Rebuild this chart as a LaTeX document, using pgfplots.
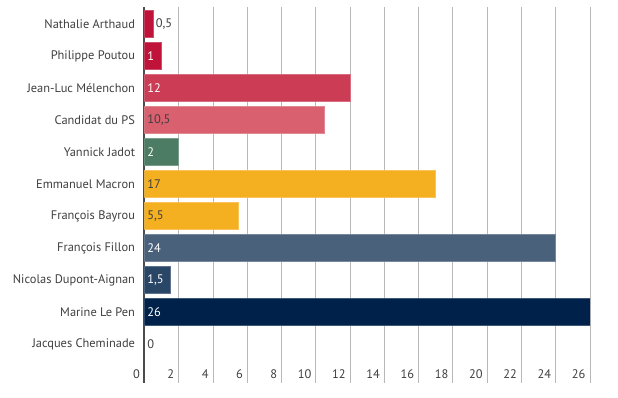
\documentclass[border=0pt]{standalone}
\usepackage{fontspec}
\setmainfont{PT Sans}
\usepackage{pgfplots}
\pgfplotsset{compat=1.18}
\definecolor{cLO}{HTML}{BF133A}
\definecolor{cFI}{HTML}{CC3C55}
\definecolor{cPS}{HTML}{D9606E}
\definecolor{cEE}{HTML}{4C7C64}
\definecolor{cEM}{HTML}{F5B021}
\definecolor{cLR}{HTML}{4A617C}
\definecolor{cDF}{HTML}{2A4666}
\definecolor{cFN}{HTML}{00214A}
\definecolor{txt}{HTML}{3F3F3F}
\begin{document}
\begin{tikzpicture}[font=\fontsize{12.4bp}{14bp}\selectfont]
\begin{axis}[
  at={(0,0)}, anchor=south west,
  scale only axis, width=445.5bp, height=376bp,
  xmin=0, xmax=26, ymin=-0.53, ymax=11.22, y dir=reverse,
  axis line style={draw=none},
  major tick length=0pt,
  xtick={2,4,...,26},
  extra x ticks={0},
  extra x tick style={grid style={draw=black!70, line width=2bp}},
  xmajorgrids, grid style={draw=black!28, line width=0.9bp},
  xticklabel style={anchor=base east, yshift=5bp, xshift=-1bp, text=txt},
  ytick={0,...,10},
  yticklabels={Nathalie Arthaud, Philippe Poutou, Jean-Luc Mélenchon, Candidat du PS, Yannick Jadot, Emmanuel Macron, François Bayrou, François Fillon, Nicolas Dupont-Aignan, Marine Le Pen, Jacques Cheminade},
  yticklabel style={xshift=-6bp, text=txt},
  /pgf/number format/assume math mode=true,
  every axis plot/.append style={xbar, bar width=27bp, bar shift=0pt, line width=1bp},
]
\addplot[fill=cLO, draw=cLO!75!white, bar shift=0pt] coordinates {(0.5,0)};
\addplot[fill=cLO, draw=cLO!75!white, bar shift=0pt] coordinates {(1,1)};
\addplot[fill=cFI, draw=cFI!75!white, bar shift=0pt] coordinates {(12,2)};
\addplot[fill=cPS, draw=cPS!75!white, bar shift=0pt] coordinates {(10.5,3)};
\addplot[fill=cEE, draw=cEE!75!white, bar shift=0pt] coordinates {(2,4)};
\addplot[fill=cEM, draw=cEM!75!white, bar shift=0pt] coordinates {(17,5)};
\addplot[fill=cEM, draw=cEM!75!white, bar shift=0pt] coordinates {(5.5,6)};
\addplot[fill=cLR, draw=cLR!75!white, bar shift=0pt] coordinates {(24,7)};
\addplot[fill=cDF, draw=cDF!75!white, bar shift=0pt] coordinates {(1.5,8)};
\addplot[fill=cFN, draw=cFN!75!white, bar shift=0pt] coordinates {(26,9)};
% value labels, white
\addplot[draw=none, mark=none, point meta=explicit symbolic,
  nodes near coords, every node near coord/.append style={anchor=west, xshift=-1bp, text=white}]
  table[x=x, y=y, meta=lab] {
x y lab
0 1 1
0 2 12
0 4 2
0 7 24
0 8 1,5
0 9 26
};
% value labels, dark
\addplot[draw=none, mark=none, point meta=explicit symbolic,
  nodes near coords, every node near coord/.append style={anchor=west, xshift=-1bp, text=txt}]
  table[x=x, y=y, meta=lab] {
x y lab
0.5 0 0,5
0 3 10,5
0 5 17
0 6 5,5
0 10 0
};
\end{axis}
\path[use as bounding box] (-144.5bp,-15bp) rectangle (473.5bp,383bp);
\end{tikzpicture}
\end{document}
